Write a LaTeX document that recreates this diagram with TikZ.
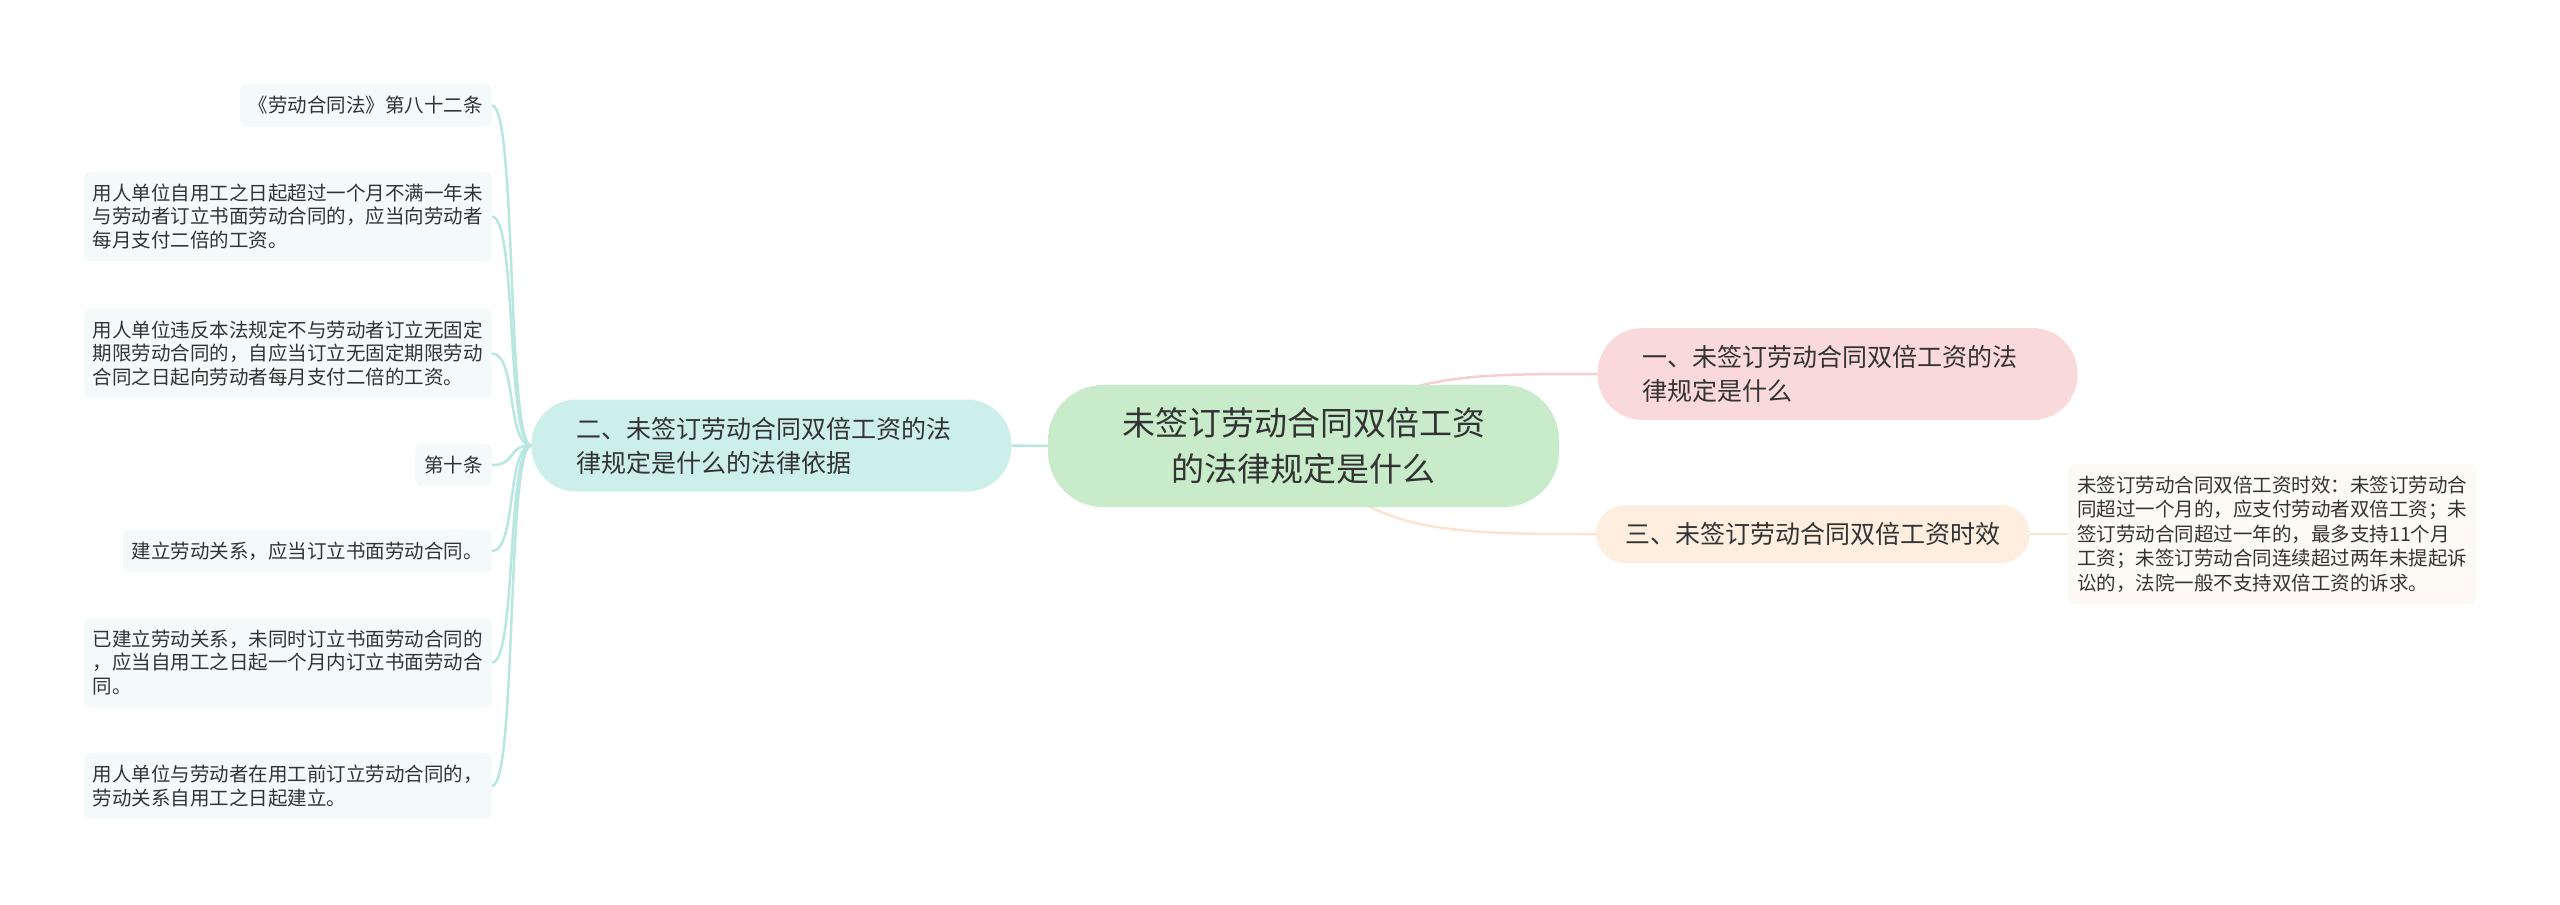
\documentclass[tikz,border=0pt]{standalone}
\usepackage{fontspec}
\setmainfont{Noto Sans CJK SC}
\usepackage{xcolor}
\usepackage{tikz}
\usetikzlibrary{positioning,backgrounds}

\definecolor{rootfill}{HTML}{C8EBCA}
\definecolor{tealfill}{HTML}{CDEFE9}
\definecolor{pinkfill}{HTML}{FAD9DA}
\definecolor{peachfill}{HTML}{FDEEDF}
\definecolor{leaffill}{HTML}{F3FAF9}
\definecolor{creamfill}{HTML}{FDFAF5}
\definecolor{tealline}{HTML}{B8E7DF}
\definecolor{pinkline}{HTML}{F7CDCF}
\definecolor{peachline}{HTML}{FBE5D1}
\definecolor{txt}{HTML}{333333}

\begin{document}
\begin{tikzpicture}[
  x=1pt, y=-1pt,
  every node/.style={text=txt},
  rootbox/.style={fill=rootfill, rounded corners=55pt, minimum width=511pt, minimum height=122pt,
                  align=center, font=\fontsize{33}{46}\selectfont},
  bigbranch/.style={rounded corners=45pt, text width=390pt, inner xsep=45pt, minimum height=92pt,
                  align=left, font=\fontsize{25}{34}\selectfont},
  smallbranch/.style={rounded corners=29pt, minimum width=434pt, minimum height=58pt,
                  align=left, font=\fontsize{25}{34}\selectfont},
  leaf/.style={fill=leaffill, rounded corners=7pt, inner xsep=9pt, inner ysep=12pt,
               align=left, font=\fontsize{19.5}{23.5}\selectfont},
  note/.style={fill=creamfill, rounded corners=7pt, inner xsep=9pt, inner ysep=12pt,
               align=left, font=\fontsize{19.5}{24.5}\selectfont},
  tealink/.style={draw=tealline, line width=2.5pt},
  pinklink/.style={draw=pinkline, line width=2.5pt},
  peachlink/.style={draw=peachline, line width=2.5pt},
]

\useasboundingbox (0,0) rectangle (2560,905);

%% --- Centre ---
\node[rootbox] (root) at (1303.5,446) {未签订劳动合同双倍工资\\的法律规定是什么};

%% --- Main branches ---
\node[bigbranch, fill=tealfill] (b2) at (771.5,445.5) {二、未签订劳动合同双倍工资的法\\律规定是什么的法律依据};
\node[bigbranch, fill=pinkfill] (b1) at (1837.5,374) {一、未签订劳动合同双倍工资的法\\律规定是什么};
\node[smallbranch, fill=peachfill] (b3) at (1813,534) {三、未签订劳动合同双倍工资时效};

%% --- Left leaves ---
\node[leaf, anchor=east] (l1) at (492,105.5) {《劳动合同法》第八十二条};
\node[leaf, anchor=east] (l2) at (492,216.5) {用人单位自用工之日起超过一个月不满一年未\\与劳动者订立书面劳动合同的，应当向劳动者\\每月支付二倍的工资。};
\node[leaf, anchor=east] (l3) at (492,353.5) {用人单位违反本法规定不与劳动者订立无固定\\期限劳动合同的，自应当订立无固定期限劳动\\合同之日起向劳动者每月支付二倍的工资。};
\node[leaf, anchor=east] (l4) at (492,465) {第十条};
\node[leaf, anchor=east] (l5) at (492,551) {建立劳动关系，应当订立书面劳动合同。};
\node[leaf, anchor=east] (l6) at (492,662.5) {已建立劳动关系，未同时订立书面劳动合同的\\，应当自用工之日起一个月内订立书面劳动合\\同。};
\node[leaf, anchor=east] (l7) at (492,786) {用人单位与劳动者在用工前订立劳动合同的，\\劳动关系自用工之日起建立。};

%% --- Right leaf ---
\node[note, anchor=west] (r1) at (2068,534) {未签订劳动合同双倍工资时效：未签订劳动合\\同超过一个月的，应支付劳动者双倍工资；未\\签订劳动合同超过一年的，最多支持11个月\\工资；未签订劳动合同连续超过两年未提起诉\\讼的，法院一般不支持双倍工资的诉求。};

%% --- Links ---
\begin{pgfonlayer}{background}
\fill[white] (0,0) rectangle (2560,905);

\draw[tealink] (root.west) -- (b2.east);
\draw[pinklink] (root.center) .. controls +(97,-72) and +(-147,0) .. (b1.west);
\draw[peachlink] (root.center) .. controls +(57,88) and +(-147,0) .. (b3.west);
\draw[peachlink] (b3.east) -- (r1.west);

\draw[tealink] (b2.west) .. controls +(-25,0) and +(25,0) .. (l1.east);
\draw[tealink] (b2.west) .. controls +(-25,0) and +(25,0) .. (l2.east);
\draw[tealink] (b2.west) .. controls +(-25,0) and +(25,0) .. (l3.east);
\draw[tealink] (b2.west) .. controls +(-25,0) and +(25,0) .. (l4.east);
\draw[tealink] (b2.west) .. controls +(-25,0) and +(25,0) .. (l5.east);
\draw[tealink] (b2.west) .. controls +(-25,0) and +(25,0) .. (l6.east);
\draw[tealink] (b2.west) .. controls +(-25,0) and +(25,0) .. (l7.east);
\end{pgfonlayer}

\end{tikzpicture}
\end{document}
